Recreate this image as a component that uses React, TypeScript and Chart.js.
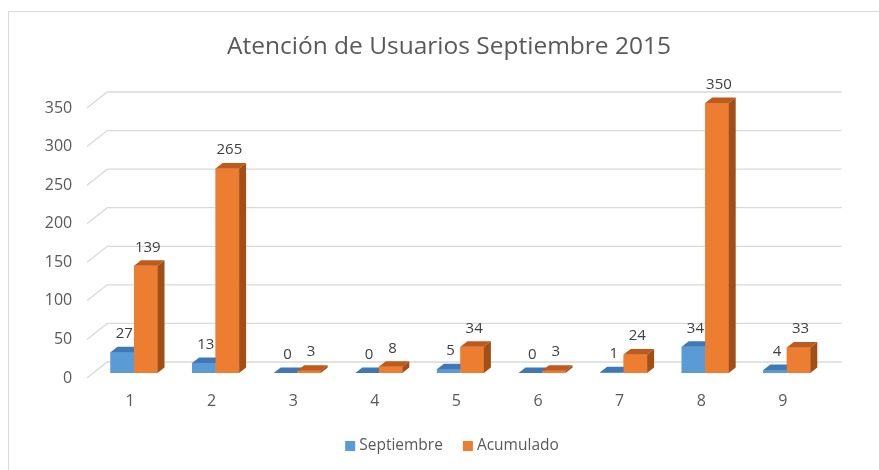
import React, { useEffect, useRef } from "react";
import { Chart, registerables } from "chart.js";

Chart.register(...registerables);

const TITLE = "Atención de Usuarios Septiembre 2015";
const categories = ["1", "2", "3", "4", "5", "6", "7", "8", "9"];
const septiembre = [27, 13, 0, 0, 5, 0, 1, 34, 4];
const acumulado = [139, 265, 3, 8, 34, 3, 24, 350, 33];
const seriesNames = ["Septiembre", "Acumulado"];
const yMax = 350;
const yStep = 50;

const FONT = "'Open Sans', 'Noto Sans', sans-serif";
const TEXT = "#595959";
const LABEL = "#404040";
const GRID = "#D9D9D9";
const FRONT = ["#5B9BD5", "#ED7D31"];
const TOP = ["#3F78B4", "#BE5B1C"];
const SIDE = ["#3A6EA5", "#A24F17"];
const DX = 7;
const DY = 5.5;

const frame3d = {
  id: "frame3d",
  beforeDatasetsDraw(chart: any) {
    const ctx = chart.ctx;
    const { left, right } = chart.chartArea;
    const ys = chart.scales.y;
    ctx.save();
    ctx.strokeStyle = GRID;
    ctx.lineWidth = 1;
    ctx.strokeRect(8.5, 11.5, 1000, 1000);
    ctx.lineWidth = 1.3;
    ys.ticks.forEach((t: any) => {
      const y = ys.getPixelForValue(t.value);
      ctx.beginPath();
      ctx.moveTo(left - 6.2, y + 5);
      ctx.lineTo(left + 14, y - 11);
      ctx.lineTo(right + 14, y - 11);
      ctx.stroke();
    });
    ctx.restore();
  },
  afterDatasetsDraw(chart: any) {
    const ctx = chart.ctx;
    const n = chart.data.datasets.length;
    ctx.save();
    for (let d = 0; d < n; d++) {
      const meta = chart.getDatasetMeta(d);
      meta.data.forEach((el: any) => {
        el.draw(ctx);
        const x0 = el.x - el.width / 2;
        const x1 = el.x + el.width / 2;
        const y = el.y;
        const b = el.base;
        ctx.fillStyle = TOP[d];
        ctx.beginPath();
        ctx.moveTo(x0, y);
        ctx.lineTo(x1, y);
        ctx.lineTo(x1 + DX, y - DY);
        ctx.lineTo(x0 + DX, y - DY);
        ctx.closePath();
        ctx.fill();
        if (d === n - 1) {
          ctx.fillStyle = SIDE[d];
          ctx.beginPath();
          ctx.moveTo(x1, y);
          ctx.lineTo(x1 + DX, y - DY);
          ctx.lineTo(x1 + DX, b - DY);
          ctx.lineTo(x1, b);
          ctx.closePath();
          ctx.fill();
        }
      });
    }
    ctx.fillStyle = LABEL;
    ctx.font = `15px ${FONT}`;
    ctx.textAlign = "center";
    ctx.textBaseline = "middle";
    for (let d = 0; d < n; d++) {
      const meta = chart.getDatasetMeta(d);
      const data = chart.data.datasets[d].data;
      meta.data.forEach((el: any, i: number) => {
        ctx.fillText(String(data[i]), el.x + 2, el.y - 18.5);
      });
    }
    ctx.restore();
  },
  afterDraw(chart: any) {
    const ctx = chart.ctx;
    ctx.save();
    ctx.fillStyle = TEXT;
    ctx.font = `24.5px ${FONT}`;
    ctx.textAlign = "center";
    ctx.textBaseline = "alphabetic";
    ctx.fillText(TITLE, 449, 53.5);
    ctx.font = `15.5px ${FONT}`;
    ctx.textAlign = "left";
    ctx.textBaseline = "middle";
    const box = 10;
    const gap = 4;
    const itemGap = 20;
    const items = chart.data.datasets.map((ds: any) => ({
      label: ds.label,
      color: ds.backgroundColor,
      w: box + gap + ctx.measureText(ds.label).width,
    }));
    const total = items.reduce((s: number, it: any) => s + it.w, 0) + itemGap * (items.length - 1);
    let x = 452 - total / 2;
    const cy = 446;
    items.forEach((it: any) => {
      ctx.fillStyle = it.color;
      ctx.fillRect(x, cy - box / 2, box, box);
      ctx.fillStyle = TEXT;
      ctx.fillText(it.label, x + box + gap, cy);
      x += it.w + itemGap;
    });
    ctx.restore();
  },
};

export default function App() {
  const ref = useRef<HTMLCanvasElement>(null);
  useEffect(() => {
    if (!ref.current) return;
    const chart = new Chart(ref.current, {
      type: "bar",
      data: {
        labels: categories,
        datasets: [
          {
            label: seriesNames[0],
            data: septiembre,
            backgroundColor: FRONT[0],
            categoryPercentage: 0.576,
            barPercentage: 1,
          },
          {
            label: seriesNames[1],
            data: acumulado,
            backgroundColor: FRONT[1],
            categoryPercentage: 0.576,
            barPercentage: 1,
          },
        ],
      },
      options: {
        responsive: false,
        animation: false,
        devicePixelRatio: 1,
        layout: { padding: { top: 103, right: 51.4, bottom: 57, left: 0 } },
        plugins: {
          legend: { display: false },
          title: { display: false },
          tooltip: { enabled: false },
        },
        scales: {
          x: {
            grid: { display: false, drawTicks: false },
            border: { display: false },
            ticks: { color: TEXT, font: { family: FONT, size: 16 }, padding: 19, labelOffset: -4 },
            afterFit: (s: any) => {
              s.height = 40;
            },
          },
          y: {
            min: 0,
            max: yMax,
            grid: { display: false, drawTicks: false },
            border: { display: false },
            ticks: {
              stepSize: yStep,
              color: TEXT,
              font: { family: FONT, size: 16 },
              padding: 21,
              labelOffset: 5,
            },
            afterFit: (s: any) => {
              s.width = 93.2;
            },
          },
        },
      },
      plugins: [frame3d],
    });
    return () => chart.destroy();
  }, []);
  return (
    <div style={{ position: "absolute", left: 0, top: 0, width: 879, height: 470, background: "#fff" }}>
      <canvas ref={ref} width={879} height={470} style={{ display: "block" }} />
    </div>
  );
}
